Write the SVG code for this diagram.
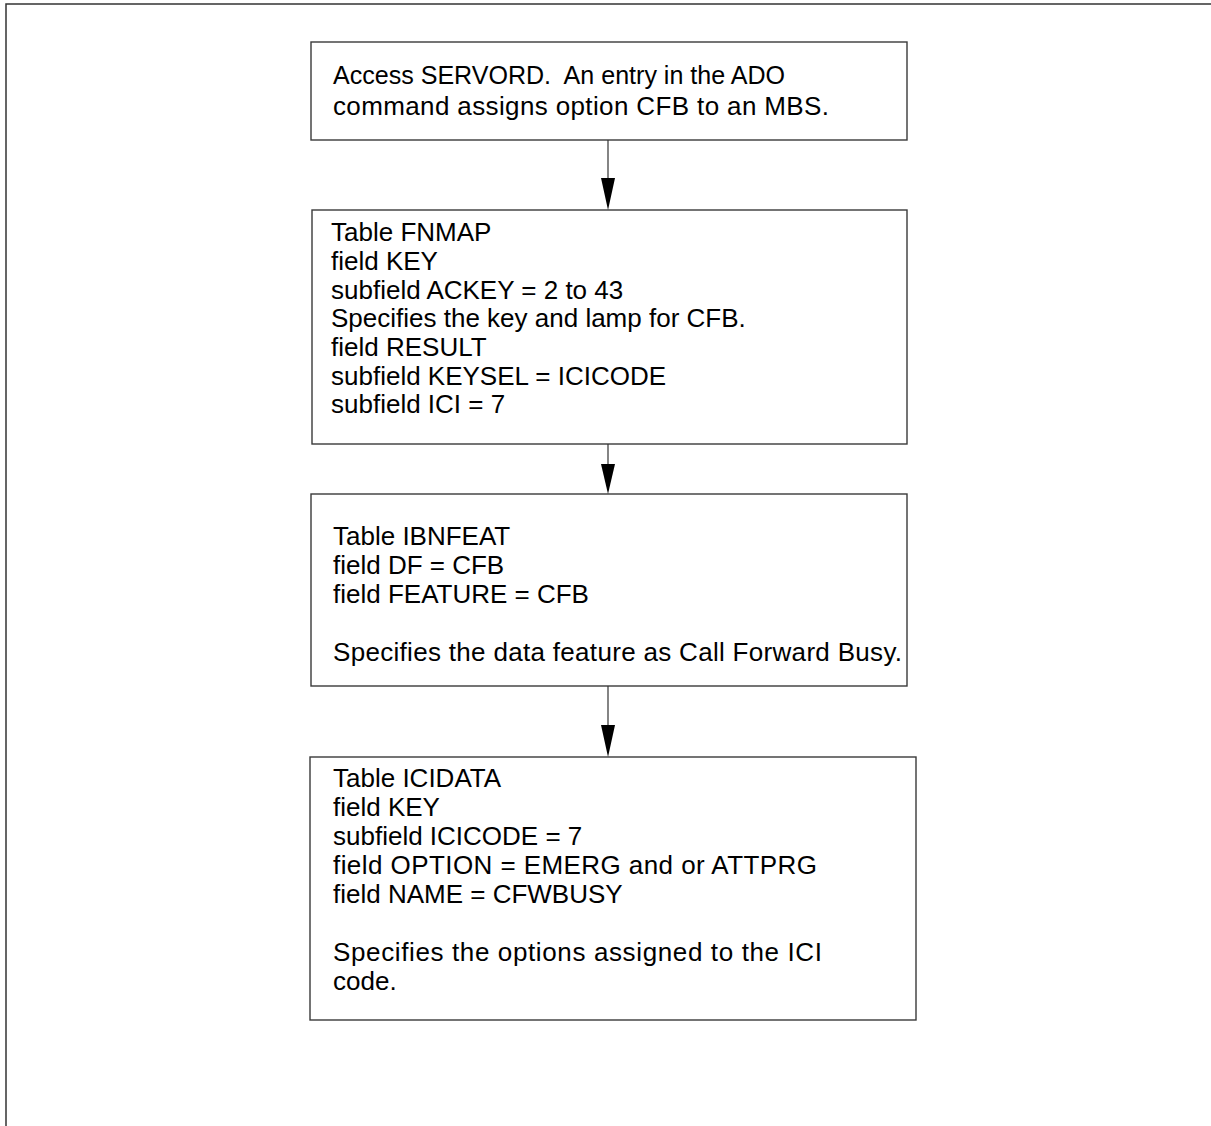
<svg xmlns="http://www.w3.org/2000/svg" width="1211" height="1126" viewBox="0 0 1211 1126">
  <style>
    .frame { fill: none; stroke: #333; stroke-width: 1.5; }
    .box { fill: #fff; stroke: #3a3a3a; stroke-width: 1.4; }
    .t { font-family: "Liberation Sans", Arial, sans-serif; font-size: 26px; fill: #000; }
    .edge { stroke: #333; stroke-width: 1.2; fill: none; }
    .head { fill: #000; }
  </style>
  <rect width="1211" height="1126" fill="#fff"/>
  <!-- page frame: top and left rules -->
  <path class="frame" d="M6,1126 V4 H1211"/>

  <g id="n1">
    <rect class="box" x="311" y="42" width="596" height="98"/>
    <text class="t" x="333" y="84" xml:space="preserve" textLength="452" lengthAdjust="spacingAndGlyphs">Access SERVORD.  An entry in the ADO</text>
    <text class="t" x="333" y="115" textLength="496">command assigns option CFB to an MBS.</text>
  </g>

  <g id="n2">
    <rect class="box" x="312" y="210" width="595" height="234"/>
    <text class="t" x="331" y="241">Table FNMAP</text>
    <text class="t" x="331" y="270">field KEY</text>
    <text class="t" x="331" y="299">subfield ACKEY = 2 to 43</text>
    <text class="t" x="331" y="327">Specifies the key and lamp for CFB.</text>
    <text class="t" x="331" y="356">field RESULT</text>
    <text class="t" x="331" y="385">subfield KEYSEL = ICICODE</text>
    <text class="t" x="331" y="413">subfield ICI = 7</text>
  </g>

  <g id="n3">
    <rect class="box" x="311" y="494" width="596" height="192"/>
    <text class="t" x="333" y="545">Table IBNFEAT</text>
    <text class="t" x="333" y="574">field DF = CFB</text>
    <text class="t" x="333" y="603">field FEATURE = CFB</text>
    <text class="t" x="333" y="661" textLength="569">Specifies the data feature as Call Forward Busy.</text>
  </g>

  <g id="n4">
    <rect class="box" x="310" y="757" width="606" height="263"/>
    <text class="t" x="333" y="787">Table ICIDATA</text>
    <text class="t" x="333" y="816">field KEY</text>
    <text class="t" x="333" y="845">subfield ICICODE = 7</text>
    <text class="t" x="333" y="874" textLength="484">field OPTION = EMERG and or ATTPRG</text>
    <text class="t" x="333" y="903">field NAME = CFWBUSY</text>
    <text class="t" x="333" y="961" textLength="489">Specifies the options assigned to the ICI</text>
    <text class="t" x="333" y="990">code.</text>
  </g>

  <g id="connectors">
    <line class="edge" x1="608" y1="140" x2="608" y2="180"/>
    <polygon class="head" points="601,178 615,178 608,210"/>
    <line class="edge" x1="608" y1="444" x2="608" y2="466"/>
    <polygon class="head" points="601,464 615,464 608,494"/>
    <line class="edge" x1="608" y1="686" x2="608" y2="727"/>
    <polygon class="head" points="601,725 615,725 608,757"/>
  </g>
</svg>
